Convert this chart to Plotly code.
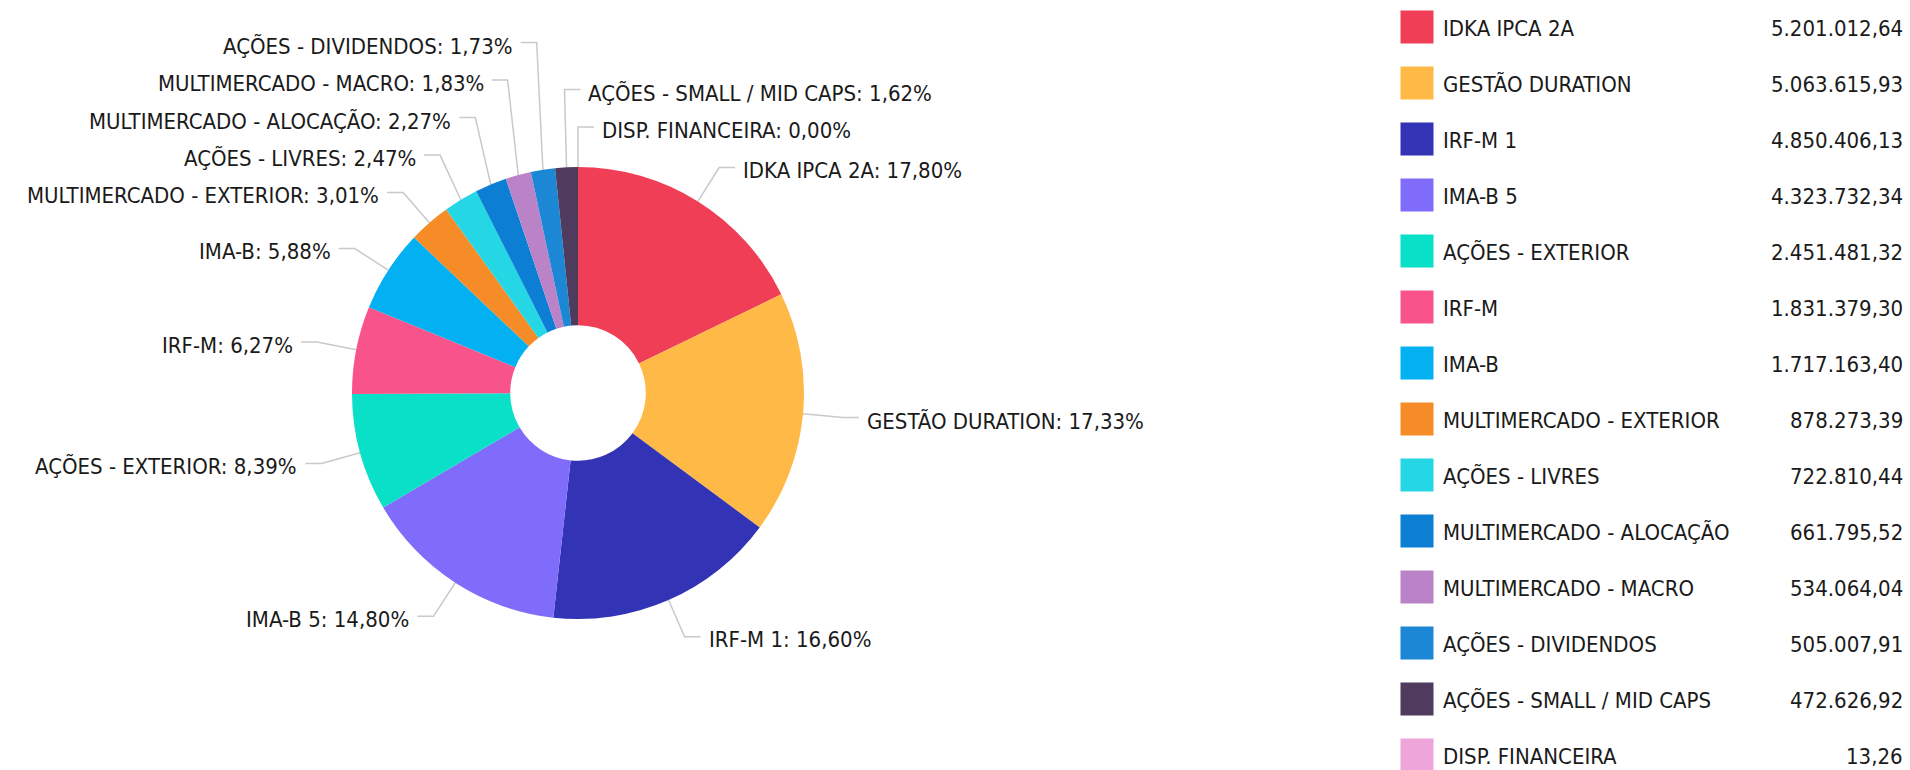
import math
import plotly.graph_objects as go

# ---------------- data ----------------
categories = [
    "IDKA IPCA 2A", "GESTÃO DURATION", "IRF-M 1", "IMA-B 5", "AÇÕES - EXTERIOR",
    "IRF-M", "IMA-B", "MULTIMERCADO - EXTERIOR", "AÇÕES - LIVRES",
    "MULTIMERCADO - ALOCAÇÃO", "MULTIMERCADO - MACRO", "AÇÕES - DIVIDENDOS",
    "AÇÕES - SMALL / MID CAPS", "DISP. FINANCEIRA",
]
values = [
    5201012.64, 5063615.93, 4850406.13, 4323732.34, 2451481.32,
    1831379.30, 1717163.40, 878273.39, 722810.44,
    661795.52, 534064.04, 505007.91,
    472626.92, 13.26,
]
colors = [
    "#EF3E55", "#FFB946", "#3333B5", "#806CFA", "#09E0C7",
    "#F8548B", "#03B1F2", "#F68C27", "#25D6E4",
    "#0C7ED3", "#BA83C7", "#1C88D5",
    "#4F3B5E", "#EEA5DA",
]

# ---------------- layout constants ----------------
W, H = 1910, 770
CX, CY, R = 578, 393, 226
HOLE = 0.30
LABEL_R = R + 40
SPACING = 37.5
ELBOW = 16
GAP = 6
FONT = "DejaVu Sans Condensed, DejaVu Sans, sans-serif"
FS = 22
TXT = "#1a1a1a"
LINE = "#c9c9c9"

LEG_SQ_X = 1417
LEG_SQ = 33
LEG_TEXT_X = 1441
LEG_VAL_X = 1905
LEG_Y0 = 27
LEG_DY = 56


def br(v, dec=2):
    s = f"{v:,.{dec}f}"
    return s.replace(",", "X").replace(".", ",").replace("X", ".")


total = sum(values)
pcts = [v / total * 100 for v in values]

fig = go.Figure()

# overlay axes in pixel space
fig.update_layout(
    xaxis=dict(range=[0, W], domain=[0, 1], visible=False, fixedrange=True),
    yaxis=dict(range=[H, 0], domain=[0, 1], visible=False, fixedrange=True),
)

fig.add_trace(go.Pie(
    labels=categories, values=values, sort=False, direction="clockwise", rotation=0,
    hole=HOLE, marker=dict(colors=colors, line=dict(width=0)),
    textinfo="none", hoverinfo="label+percent", showlegend=False,
    domain=dict(x=[(CX - R) / W, (CX + R) / W], y=[1 - (CY + R) / H, 1 - (CY - R) / H]),
))

# ---------- label placement ----------
items = []
cum = 0.0
for i, v in enumerate(values):
    mid = (cum + v / 2) / total * 360.0
    cum += v
    a = math.radians(mid)
    ex, ey = CX + R * math.sin(a), CY - R * math.cos(a)
    ox, oy = CX + LABEL_R * math.sin(a), CY - LABEL_R * math.cos(a)
    right = ox >= CX - 15
    items.append(dict(i=i, mid=mid, ex=ex, ey=ey, ox=ox, oy=oy, right=right))

for side in (True, False):
    grp = [it for it in items if it["right"] == side]
    if side:
        grp.sort(key=lambda it: it["mid"] if it["mid"] < 180 else it["mid"] - 360)
    else:
        grp.sort(key=lambda it: -it["mid"])
    prev = None
    for it in reversed(grp):
        y = it["oy"]
        if prev is not None:
            y = min(y, prev - SPACING)
        it["y"] = y
        prev = y

annotations = []
for it in items:
    i = it["i"]
    sgn = 1 if it["right"] else -1
    hx = it["ox"] + sgn * ELBOW
    fig.add_trace(go.Scatter(
        x=[it["ex"], it["ox"], hx], y=[it["ey"], it["y"], it["y"]],
        mode="lines", line=dict(color=LINE, width=1.5), hoverinfo="skip", showlegend=False,
    ))
    annotations.append(dict(
        x=hx + sgn * GAP, y=it["y"] + 3, xref="x", yref="y", showarrow=False,
        xanchor="left" if it["right"] else "right", yanchor="middle",
        text=f"{categories[i]}: {br(pcts[i])}%",
        font=dict(family=FONT, size=FS, color=TXT),
    ))

# ---------- legend ----------
leg_y = [LEG_Y0 + LEG_DY * k for k in range(len(categories))]
fig.add_trace(go.Scatter(
    x=[LEG_SQ_X] * len(categories), y=leg_y, mode="markers",
    marker=dict(symbol="square", size=LEG_SQ, color=colors, line=dict(width=0)),
    hoverinfo="skip", showlegend=False,
))
for k, name in enumerate(categories):
    annotations.append(dict(
        x=LEG_TEXT_X, y=leg_y[k] + 1, xref="x", yref="y", showarrow=False,
        xanchor="left", yanchor="middle", text=name,
        font=dict(family=FONT, size=FS, color=TXT),
    ))
    annotations.append(dict(
        x=LEG_VAL_X, y=leg_y[k] + 1, xref="x", yref="y", showarrow=False,
        xanchor="right", yanchor="middle", text=br(values[k]),
        font=dict(family=FONT, size=FS, color=TXT),
    ))

fig.update_layout(
    width=W, height=H, margin=dict(l=0, r=0, t=0, b=0),
    paper_bgcolor="white", plot_bgcolor="white",
    annotations=annotations, showlegend=False,
    font=dict(family=FONT, size=FS, color=TXT),
)

fig.write_html(
    "out.html",
    config={"displayModeBar": False},
    post_script="document.body.style.margin='0';document.body.style.overflow='hidden';",
)
